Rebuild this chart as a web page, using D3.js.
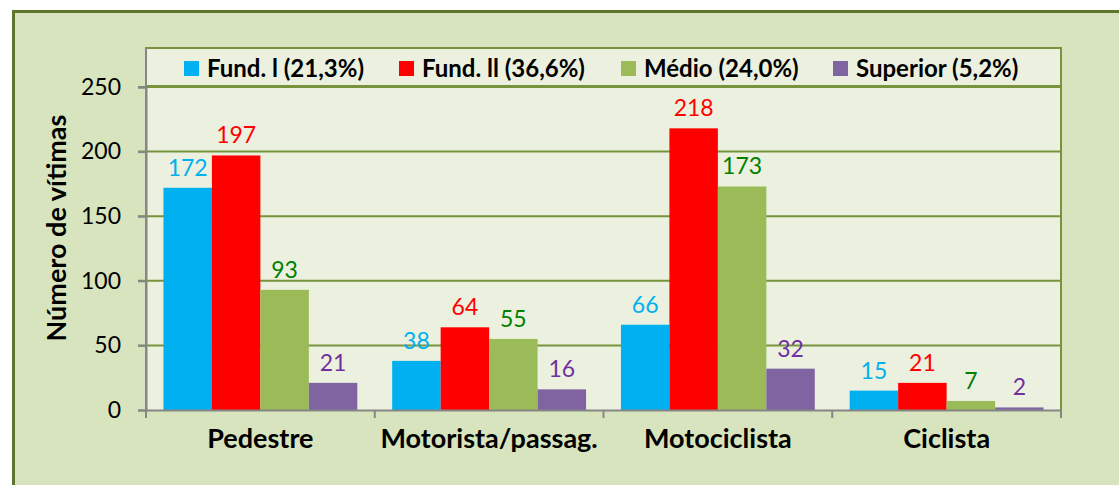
<!DOCTYPE html>
<html>
<head>
<meta charset="utf-8">
<script src="https://cdn.jsdelivr.net/npm/d3@7"></script>
<style>
html,body{margin:0;padding:0;background:#fff;}
svg{display:block;}
text{font-family:Lato,"Open Sans",sans-serif;}
</style>
</head>
<body>
<svg id="chart" width="1119" height="485"></svg>
<script>
const categories = ["Pedestre", "Motorista/passag.", "Motociclista", "Ciclista"];
const seriesNames = ["Fund. l (21,3%)", "Fund. ll (36,6%)", "Médio (24,0%)", "Superior (5,2%)"];
const fundI = [172, 38, 66, 15];
const fundII = [197, 64, 218, 21];
const medio = [93, 55, 173, 7];
const superior = [21, 16, 32, 2];
const yTicks = [0, 50, 100, 150, 200, 250];
const barColors = ["#00b0f0", "#ff0000", "#9bbb59", "#8064a2"];
const labelColors = ["#00b0f0", "#ff0000", "#008000", "#7030a0"];

const series = [fundI, fundII, medio, superior];
const svg = d3.select("#chart");
const W = 1119, H = 485;

svg.append("rect").attr("x", 0).attr("y", 0).attr("width", W).attr("height", H).attr("fill", "#ffffff");
svg.append("rect").attr("x", 13.5).attr("y", 11.5).attr("width", W + 20).attr("height", H + 20)
  .attr("fill", "#d7e4bd").attr("stroke", "#5e752d").attr("stroke-width", 3);

const plot = {left: 146, right: 1061, top: 48, bottom: 410};
const y = d3.scaleLinear().domain([0, 250]).range([plot.bottom, 87]);
const x0 = d3.scaleBand().domain(categories).range([plot.left, plot.right]).paddingInner(0).paddingOuter(0);
const x1 = d3.scaleBand().domain(d3.range(series.length)).range([0, x0.bandwidth()]).paddingInner(0).paddingOuter(0.36);

svg.append("rect").attr("x", plot.left).attr("y", plot.top).attr("width", plot.right - plot.left).attr("height", plot.bottom - plot.top)
  .attr("fill", "#ebf1de");

svg.append("g").selectAll("line").data(yTicks.filter(d => d > 0)).join("line")
  .attr("x1", plot.left - 8).attr("x2", plot.right)
  .attr("y1", d => y(d)).attr("y2", d => y(d))
  .attr("stroke", "#77933c").attr("stroke-width", 2);

svg.append("line").attr("x1", plot.right).attr("x2", plot.right).attr("y1", plot.top).attr("y2", plot.bottom)
  .attr("stroke", "#77933c").attr("stroke-width", 2);
svg.append("line").attr("x1", plot.left).attr("x2", plot.right).attr("y1", plot.top).attr("y2", plot.top)
  .attr("stroke", "#77933c").attr("stroke-width", 2);

const groups = svg.append("g").selectAll("g").data(categories).join("g")
  .attr("transform", d => `translate(${x0(d)},0)`);
groups.selectAll("rect").data((c, ci) => series.map((s, si) => ({si, v: s[ci]}))).join("rect")
  .attr("x", d => x1(d.si)).attr("width", x1.bandwidth())
  .attr("y", d => y(d.v)).attr("height", d => y(0) - y(d.v))
  .attr("fill", d => barColors[d.si]);
groups.selectAll("text").data((c, ci) => series.map((s, si) => ({si, v: s[ci]}))).join("text")
  .attr("x", d => x1(d.si) + x1.bandwidth() / 2)
  .attr("y", d => y(d.v) - 12)
  .attr("text-anchor", "middle")
  .attr("font-size", 23)
  .attr("fill", d => labelColors[d.si])
  .text(d => d.v);

const yAxis = d3.axisLeft(y).tickValues(yTicks).tickSize(8).tickPadding(17);
const gy = svg.append("g").attr("transform", `translate(${plot.left},0)`).call(yAxis);
gy.select(".domain").attr("stroke", "#868686").attr("stroke-width", 2);
gy.selectAll(".tick line").attr("stroke", "#868686").attr("stroke-width", 2);
gy.selectAll(".tick text").attr("font-size", 23).attr("fill", "#000").attr("font-family", "Lato");

const xAxis = d3.axisBottom(x0).tickSize(0).tickPadding(19);
const gx = svg.append("g").attr("transform", `translate(0,${plot.bottom})`).call(xAxis);
gx.select(".domain").attr("stroke", "#868686").attr("stroke-width", 2);
gx.selectAll(".tick text").attr("font-size", 27).attr("font-weight", "bold").attr("fill", "#000").attr("font-family", "Lato")
  .attr("dy", "0.71em");
svg.append("g").selectAll("line").data(categories.map(c => x0(c)).concat([plot.right])).join("line")
  .attr("x1", d => d).attr("x2", d => d).attr("y1", plot.bottom).attr("y2", plot.bottom + 8)
  .attr("stroke", "#868686").attr("stroke-width", 2);

svg.append("text")
  .attr("transform", `translate(66,228) rotate(-90)`)
  .attr("text-anchor", "middle")
  .attr("font-size", 27).attr("font-weight", "bold").attr("fill", "#000")
  .text("Número de vítimas");

svg.append("rect").attr("x", plot.left).attr("y", plot.top).attr("width", plot.right - plot.left).attr("height", 38)
  .attr("fill", "#ebf1de").attr("stroke", "#77933c").attr("stroke-width", 2);
svg.append("line").attr("x1", plot.left).attr("x2", plot.left).attr("y1", plot.top).attr("y2", plot.bottom)
  .attr("stroke", "#868686").attr("stroke-width", 2);
const legendX = [184, 399, 621, 833];
const lg = svg.append("g").selectAll("g").data(seriesNames).join("g")
  .attr("transform", (d, i) => `translate(${legendX[i]},61)`);
lg.append("rect").attr("width", 15).attr("height", 15).attr("fill", (d, i) => barColors[i]);
lg.append("text").attr("x", 23).attr("y", 16).attr("font-size", 24).attr("font-weight", "bold").attr("fill", "#000")
  .text(d => d);
</script>
</body>
</html>
